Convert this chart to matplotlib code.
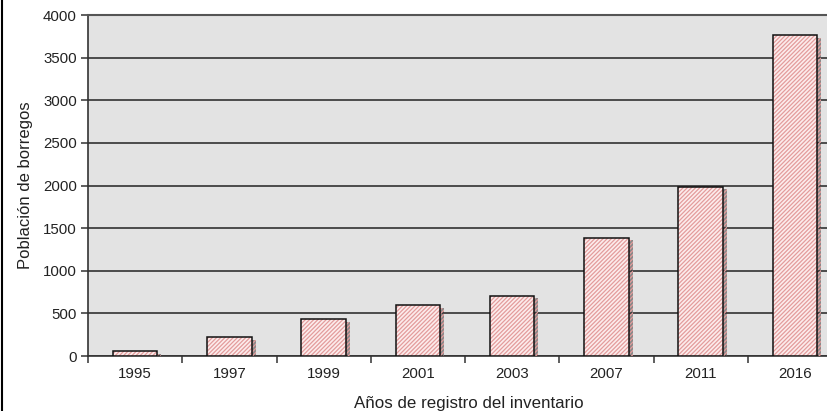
import matplotlib
matplotlib.use("Agg")
import matplotlib.pyplot as plt
import matplotlib.patheffects as pe
from matplotlib.lines import Line2D
import numpy as np

plt.rcParams['font.family'] = ['Liberation Sans', 'DejaVu Sans']
plt.rcParams['hatch.linewidth'] = 0.9

years = ["1995", "1997", "1999", "2001", "2003", "2007", "2011", "2016"]
poblacion = [55, 222, 435, 598, 708, 1390, 1988, 3765]
y_ticks = [0, 500, 1000, 1500, 2000, 2500, 3000, 3500, 4000]

fig = plt.figure(figsize=(8.28, 4.11), dpi=100)
ax = fig.add_axes([88 / 828, 55 / 411, 754 / 828, 341 / 411])
ax.set_facecolor("#e3e3e3")

x = np.arange(len(years))
shadow = [pe.SimplePatchShadow(offset=(3, -2), shadow_rgbFace="#303030", alpha=0.5), pe.Normal()]
bars = ax.bar(x, poblacion, width=0.47, color="#fcecec", edgecolor="#e39c9c",
              hatch="////////", linewidth=0, zorder=3)
for b in bars:
    b.set_path_effects(shadow)
ax.bar(x, poblacion, width=0.47, color="none", edgecolor="#111111",
       linewidth=1.1, zorder=4)

ax.set_xlim(-0.5, len(years) - 0.5)
ax.set_ylim(0, 4000)
ax.set_yticks(y_ticks)
ax.set_yticklabels([str(v) for v in y_ticks], fontsize=10.8, color="#222222")
ax.set_xticks(x)
ax.set_xticklabels(years, fontsize=10.8, color="#222222")
ax.set_xticks(np.arange(len(years) + 1) - 0.5, minor=True)
ax.tick_params(axis="x", which="major", length=0, pad=8)
ax.tick_params(axis="x", which="minor", length=5, width=1.1, color="#333333", direction="out")
ax.tick_params(axis="y", length=5, width=1.1, color="#333333", direction="out", pad=3)

ax.yaxis.grid(True, color="#222222", linewidth=1.1)
ax.set_axisbelow(True)
for s in ["left", "bottom"]:
    ax.spines[s].set_color("#333333")
    ax.spines[s].set_linewidth(1.2)
ax.spines["top"].set_color("#555555")
ax.spines["top"].set_linewidth(1.5)
ax.spines["right"].set_visible(False)

ax.set_ylabel("Población de borregos", fontsize=12, color="#222222", labelpad=7)
fig.text(469 / 828, 1 - 403 / 411, "Años de registro del inventario", fontsize=12.2,
         color="#222222", ha="center", va="center")

fig.add_artist(Line2D([2.5 / 828, 2.5 / 828], [0, 1], color="black", linewidth=1.5))

fig.savefig("out.png", dpi=100, facecolor="white")
